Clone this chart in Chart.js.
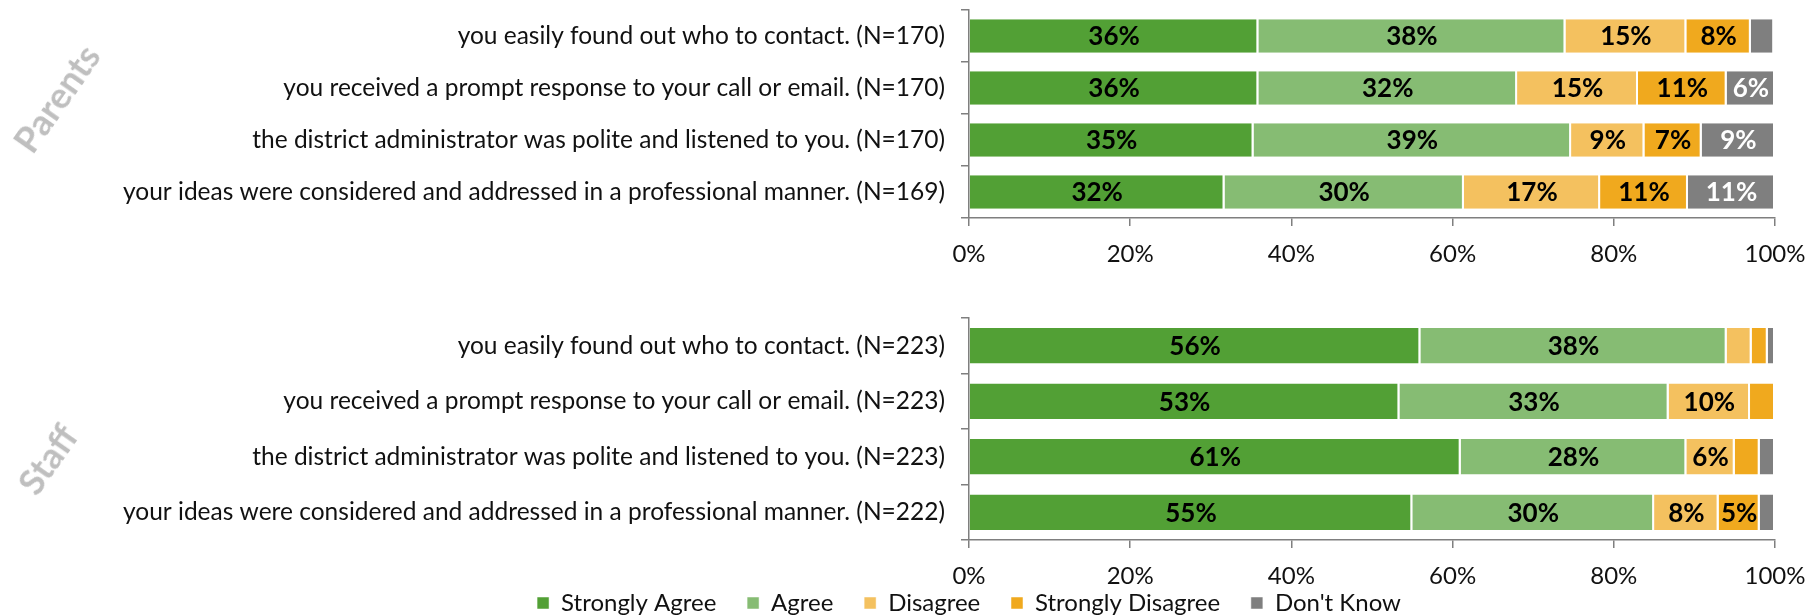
<!DOCTYPE html>
<html>
<head>
<meta charset="utf-8">
<script src="https://cdn.jsdelivr.net/npm/chart.js@4/dist/chart.umd.min.js"></script>
<style>
  html, body { margin: 0; padding: 0; background: #fff; overflow: hidden; }
  #wrap { position: relative; width: 1819px; height: 616px; overflow: hidden; }
  .box { position: absolute; left: 0; }
  .group {
    position: absolute;
    font-family: Lato, sans-serif;
    font-weight: bold;
    font-size: 36px;
    color: #bfbfbf;
    transform: translate(-50%, -50%) rotate(-55deg);
    white-space: nowrap;
  }
</style>
</head>
<body>
<div id="wrap">
  <div class="box" style="top:0;width:1819px;height:270px"><canvas id="parentsChart"></canvas></div>
  <div class="box" style="top:300px;width:1938px;height:325px"><canvas id="staffChart"></canvas></div>
  <div class="group" style="left:56px;top:98px">Parents</div>
  <div class="group" style="left:47px;top:459px">Staff</div>
</div>
<script>
// вопросы (одинаковые для обеих групп, меняется только N)
const parentsQuestions = [
  "you easily found out who to contact. (N=170)",
  "you received a prompt response to your call or email. (N=170)",
  "the district administrator was polite and listened to you. (N=170)",
  "your ideas were considered and addressed in a professional manner. (N=169)",
];
const staffQuestions = [
  "you easily found out who to contact. (N=223)",
  "you received a prompt response to your call or email. (N=223)",
  "the district administrator was polite and listened to you. (N=223)",
  "your ideas were considered and addressed in a professional manner. (N=222)",
];

const seriesNames = ["Strongly Agree", "Agree", "Disagree", "Strongly Disagree", "Don't Know"];
const seriesColors = ["#52a035", "#86bc73", "#f4c15f", "#f0a91e", "#7f7f7f"];
const labelColors = ["#000", "#000", "#000", "#000", "#fff"];

// Parents, % по строкам
const parentsStronglyAgree = [35.9, 35.9, 35.3, 31.7];
const parentsAgree = [38.1, 32.1, 39.4, 29.7];
const parentsDisagree = [15.0, 15.0, 9.1, 16.9];
const parentsStronglyDisagree = [8.0, 11.0, 7.1, 10.9];
const parentsDontKnow = [2.9, 6.0, 9.1, 10.8];

// Staff
const staffStronglyAgree = [56.0, 53.4, 61.0, 55.0];
const staffAgree = [38.0, 33.4, 28.0, 30.0];
const staffDisagree = [3.1, 10.1, 6.0, 8.0];
const staffStronglyDisagree = [2.0, 3.1, 3.1, 5.1];
const staffDontKnow = [0.9, 0, 1.9, 1.9];

const xTicks = [0, 20, 40, 60, 80, 100];

Chart.defaults.font.family = "Lato, sans-serif";
Chart.defaults.color = "#111";

// ширина пробела, чтобы раздвинуть элементы легенды (отступ legend.padding тянет её вниз)
const measureCtx = document.createElement("canvas").getContext("2d");
measureCtx.font = "24px Lato, sans-serif";
const gapSpaces = "\u00a0".repeat(Math.round(31 / measureCtx.measureText("\u00a0").width));

// подписи процентов внутри сегментов
const barLabels = {
  id: "barLabels",
  afterDatasetsDraw(chart) {
    const { ctx } = chart;
    ctx.save();
    ctx.font = "bold 26px Lato, sans-serif";
    ctx.textAlign = "center";
    ctx.textBaseline = "middle";
    chart.data.datasets.forEach((ds, i) => {
      const meta = chart.getDatasetMeta(i);
      meta.data.forEach((bar, j) => {
        const v = ds.data[j];
        if (v < 4.5) return; // маленькие сегменты без подписи
        ctx.fillStyle = labelColors[i];
        ctx.fillText(`${Math.round(v)}%`, (bar.x + bar.base) / 2, bar.y + 1);
      });
    });
    ctx.restore();
  },
};

function makeDatasets(values) {
  return values.map((data, i) => ({
    label: seriesNames[i],
    data,
    backgroundColor: seriesColors[i],
    borderColor: "#fff",
    borderWidth: { left: 0, right: 2, top: 0, bottom: 0 },
    borderSkipped: false,
    categoryPercentage: 1,
    barPercentage: 0.64,
  }));
}

function noPadding(scale) {
  scale.paddingTop = 0;
  scale.paddingBottom = 0;
  scale.paddingLeft = 0;
  scale.paddingRight = 0;
}

function makeChart(canvas, labels, values, opts) {
  const scales = {
    x: {
      stacked: true,
      min: 0,
      max: 100,
      afterBuildTicks(scale) {
        scale.ticks = xTicks.map((value) => ({ value }));
      },
      afterFit(scale) {
        scale.height = opts.xHeight;
        noPadding(scale);
      },
      grid: { drawOnChartArea: false, drawTicks: true, tickLength: 8, color: "#7f7f7f", lineWidth: 1.5 },
      border: { display: true, color: "#7f7f7f", width: 1.5 },
      ticks: {
        padding: 14,
        font: { size: 24 },
        color: "#111",
        maxRotation: 0,
        callback(value) {
          return `${value}%`;
        },
      },
    },
    y: {
      stacked: true,
      afterFit(scale) {
        scale.width = 969;
        noPadding(scale);
      },
      grid: { offset: true, drawOnChartArea: false, drawTicks: true, tickLength: 8, color: "#7f7f7f", lineWidth: 1.5 },
      border: { display: true, color: "#7f7f7f", width: 1.5 },
      ticks: { padding: 16, font: { size: 24.5 }, color: "#111" },
    },
  };
  if (opts.rightGap) {
    // пустая ось справа: легенда центрируется по всей ширине, а область графика заканчивается раньше
    scales.gap = {
      type: "linear",
      position: "right",
      grid: { display: false },
      border: { display: false },
      ticks: { display: false },
      afterFit(scale) {
        scale.width = opts.rightGap;
        noPadding(scale);
      },
    };
  }

  return new Chart(canvas, {
    type: "bar",
    data: { labels, datasets: makeDatasets(values) },
    plugins: [barLabels],
    options: {
      indexAxis: "y",
      responsive: true,
      maintainAspectRatio: false,
      animation: false,
      layout: { padding: { top: opts.top, left: 0, right: opts.right, bottom: 0 } },
      plugins: {
        tooltip: { enabled: false },
        legend: opts.legend
          ? {
              display: true,
              position: "bottom",
              labels: {
                boxWidth: 12,
                boxHeight: 12,
                padding: 0,
                color: "#111",
                font: { size: 24 },
                generateLabels(chart) {
                  const items = Chart.defaults.plugins.legend.labels.generateLabels(chart);
                  items.forEach((item, i) => {
                    if (i < items.length - 1) item.text += gapSpaces;
                  });
                  return items;
                },
              },
            }
          : { display: false },
      },
      scales,
    },
  });
}

makeChart(
  document.getElementById("parentsChart"),
  parentsQuestions,
  [parentsStronglyAgree, parentsAgree, parentsDisagree, parentsStronglyDisagree, parentsDontKnow],
  { top: 10, right: 44, xHeight: 52, legend: false },
);

makeChart(
  document.getElementById("staffChart"),
  staffQuestions,
  [staffStronglyAgree, staffAgree, staffDisagree, staffStronglyDisagree, staffDontKnow],
  { top: 18, right: 0, rightGap: 163, xHeight: 51, legend: true },
);
</script>
</body>
</html>
